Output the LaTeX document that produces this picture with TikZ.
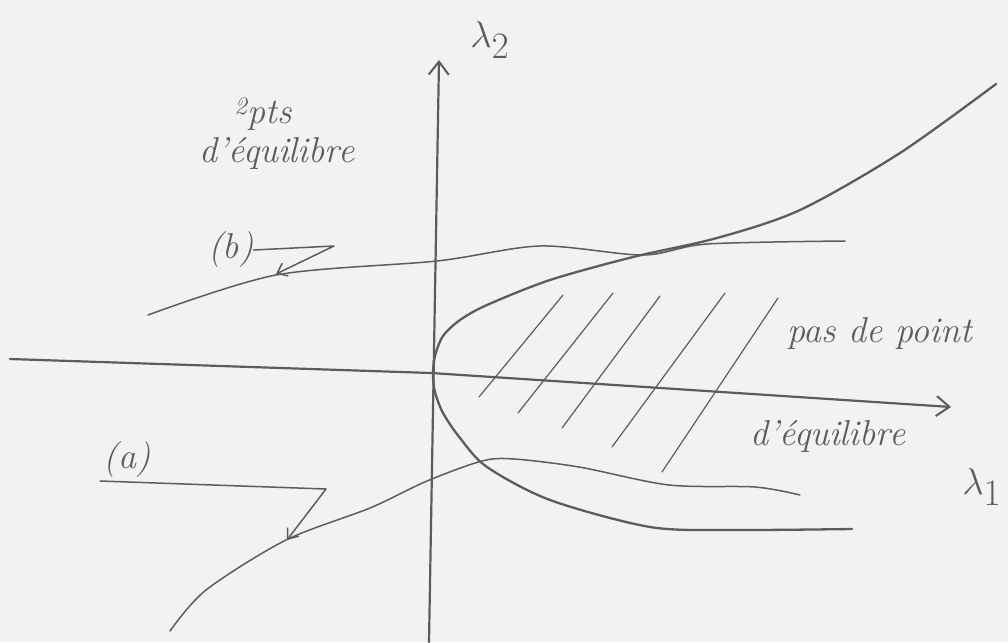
\documentclass[tikz,border=0pt]{standalone}
\usepackage{amsmath,amssymb}
\usepackage{graphicx}
\usepackage{tikz}
\usepackage{xcolor}
\usetikzlibrary{arrows.meta}
\definecolor{paper}{HTML}{F2F2F0}
\definecolor{pencil}{HTML}{5C5C5C}
\begin{document}
\begin{tikzpicture}[x=1pt, y=-1pt, line cap=round, line join=round,
  pen/.style={draw=pencil, line width=1.5pt},
  axis/.style={draw=pencil, line width=2.2pt, -{Straight Barb[length=13pt,width=20pt,line width=2pt]}},
  pointer/.style={pen, -{Straight Barb[length=9pt,width=14pt,line width=1.5pt]}},
  hand/.style={text=pencil, font=\fontsize{36}{40}\selectfont\itshape, inner sep=0pt}]
\useasboundingbox[fill=paper] (0,0) rectangle (1008,642);
\coordinate (O) at (431,373);
\coordinate (xl) at (10,359);
\coordinate (xr) at (951,407);
\coordinate (yb) at (429,642);
\coordinate (yt) at (439,60);
\draw[axis] (xl) -- (O) -- (xr);
\draw[axis] (yb) -- (yt);
\node[hand] (l2) at (490,40) {\scalebox{1.5}{$\lambda_2$}};
\node[hand] (l1) at (982,487) {\scalebox{1.5}{$\lambda_1$}};
\draw[pen, line width=2.3pt] plot[smooth, tension=0.5] coordinates {(852,529) (733,530) (650,527) (550,500) (487,467) (460,438) (443,413) (435,392) (433,375) (435,356) (443,336) (460,320) (487,305) (550,280) (633,257) (717,238) (800,210) (900,153) (996,84)};
\draw[pen] plot[smooth] coordinates {(148,315) (276,275) (437,261) (540,246) (643,255) (707,244) (845,241)};
\draw[pen] plot[smooth] coordinates {(170,631) (206,590) (286,540) (370,508) (427,481) (482,461) (514,459) (579,467) (669,485) (755,487) (800,495)};
\foreach \xa/\ya/\xb/\yb in {479/397/563/295, 518/413/613/293, 562/428/660/296, 612/447/725/293, 662/472/778/298}
  \draw[pen, line width=1.2pt] (\xa,\ya) -- (\xb,\yb);
\node[hand] (pts) at (263,114) {\textsuperscript{2}pts};
\node[hand] (eq2) at (277,153) {d'équilibre};
\node[hand] (pas) at (880,333) {pas de point};
\node[hand] (eq1) at (828,436) {d'équilibre};
\node[hand] (lb) at (231,250) {(b)};
\coordinate (pb) at (334,246);
\coordinate (tb) at (276,274);
\draw[pointer] (lb.east) -- (pb) -- (tb);
\node[hand] (la) at (127,460) {(a)};
\coordinate (a0) at (100,481);
\coordinate (pa) at (326,489);
\coordinate (ta) at (287,540);
\draw[pointer] (a0) -- (pa) -- (ta);
\end{tikzpicture}
\end{document}
